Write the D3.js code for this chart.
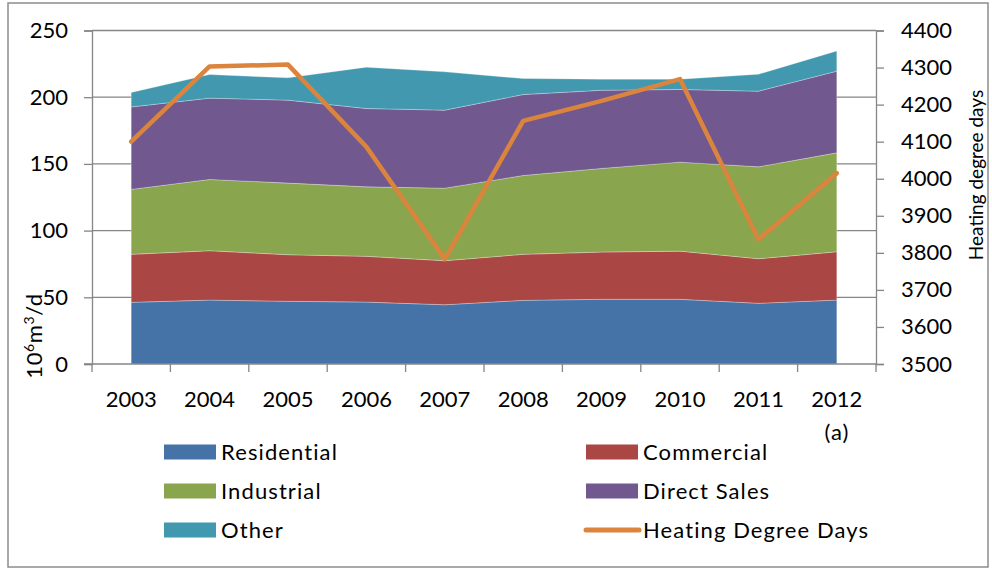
<!DOCTYPE html>
<html>
<head>
<meta charset="utf-8">
<script src="https://cdn.jsdelivr.net/npm/d3@7"></script>
<style>
  body { margin: 0; background: #fff; }
  svg { display: block; font-family: Lato, "Open Sans", sans-serif; }
</style>
</head>
<body>
<div id="container"></div>
<script>
let years = ['2003', '2004', '2005', '2006', '2007', '2008', '2009', '2010', '2011', '2012']
let residential = [46.2, 47.9, 47.0, 46.4, 44.4, 47.7, 48.5, 48.5, 45.5, 47.9]
let commercial = [36.0, 37.0, 34.9, 34.3, 33.0, 34.5, 35.4, 36.1, 33.4, 36.2]
let industrial = [48.7, 53.4, 53.7, 52.1, 54.4, 59.1, 62.7, 66.7, 68.9, 74.2]
let directSales = [61.8, 61.0, 62.2, 58.7, 58.5, 60.7, 58.6, 54.5, 56.7, 61.2]
let other = [10.8, 17.7, 16.7, 31.0, 28.7, 12.0, 8.3, 7.7, 12.7, 15.2]
let hdd = [4100, 4303, 4308, 4086, 3783, 4156, 4210, 4269, 3836, 4015]

let leftTicks = [0, 50, 100, 150, 200, 250]
let rightTicks = [3500, 3600, 3700, 3800, 3900, 4000, 4100, 4200, 4300, 4400]

let seriesNames = ['Residential', 'Commercial', 'Industrial', 'Direct Sales', 'Other']
let seriesColors = ['#4572A7', '#AA4643', '#89A54E', '#71588F', '#4198AF']
let hddColor = '#DB843D'

let svgWidth = 992
let svgHeight = 571
let plotLeft = 92
let plotRight = 876
let plotTop = 30.5
let plotBottom = 364

let rows = years.map((y, i) => ({
    year: y,
    'Residential': residential[i],
    'Commercial': commercial[i],
    'Industrial': industrial[i],
    'Direct Sales': directSales[i],
    'Other': other[i]
}))

let svg = d3.select('#container')
            .append('svg')
            .attr('width', svgWidth)
            .attr('height', svgHeight)

// outer frame
svg.append('rect')
    .attr('x', 8).attr('y', 3)
    .attr('width', 980).attr('height', 564)
    .attr('fill', 'none')
    .attr('stroke', '#8c8c8c')
    .attr('stroke-width', 1.5)

let x = d3.scaleBand().domain(years).range([plotLeft, plotRight]).padding(0)
let xc = d => x(d) + x.bandwidth() / 2
let yLeft = d3.scaleLinear().domain([0, 250]).range([plotBottom, plotTop])
let yRight = d3.scaleLinear().domain([3500, 4400]).range([plotBottom, plotTop])

// gridlines
svg.append('g')
    .selectAll('line')
    .data(leftTicks.slice(1))
    .enter()
    .append('line')
    .attr('x1', plotLeft).attr('x2', plotRight)
    .attr('y1', d => yLeft(d)).attr('y2', d => yLeft(d))
    .attr('stroke', '#868686')
    .attr('stroke-width', 1.3)

// stacked areas
let stack = d3.stack().keys(seriesNames)
let layers = stack(rows)

let area = d3.area()
    .x(d => xc(d.data.year))
    .y0(d => yLeft(d[0]))
    .y1(d => yLeft(d[1]))

svg.append('g')
    .selectAll('path')
    .data(layers)
    .enter()
    .append('path')
    .attr('d', area)
    .attr('fill', (d, i) => seriesColors[i])
    .attr('stroke', 'rgba(255,255,255,0.35)')
    .attr('stroke-width', 0.8)

// left axis
let leftAxis = svg.append('g')
    .attr('transform', 'translate(' + plotLeft + ',0)')
    .call(d3.axisLeft(yLeft).tickValues(leftTicks).tickSize(8).tickPadding(16))
leftAxis.select('.domain').attr('stroke', '#868686').attr('stroke-width', 1.3)
leftAxis.selectAll('.tick line').attr('stroke', '#868686').attr('stroke-width', 1.3)
leftAxis.selectAll('.tick text').attr('font-size', 22).attr('fill', '#000')
    .attr('font-family', 'Lato, sans-serif')

// right axis
let rightAxis = svg.append('g')
    .attr('transform', 'translate(' + plotRight + ',0)')
    .call(d3.axisRight(yRight).tickValues(rightTicks).tickFormat(d3.format('d'))
        .tickSize(8).tickPadding(17))
rightAxis.select('.domain').attr('stroke', '#868686').attr('stroke-width', 1.3)
rightAxis.selectAll('.tick line').attr('stroke', '#868686').attr('stroke-width', 1.3)
rightAxis.selectAll('.tick text').attr('font-size', 22).attr('fill', '#000')
    .attr('font-family', 'Lato, sans-serif')

// bottom axis: labels at band centres, ticks on band edges
let bottom = svg.append('g')
    .attr('transform', 'translate(0,' + plotBottom + ')')
bottom.append('line')
    .attr('x1', plotLeft - 8).attr('x2', plotRight)
    .attr('stroke', '#868686').attr('stroke-width', 1.3)
bottom.selectAll('line.tk')
    .data(years.concat(['end']))
    .enter()
    .append('line')
    .attr('class', 'tk')
    .attr('x1', (d, i) => i < years.length ? x(d) : plotRight)
    .attr('x2', (d, i) => i < years.length ? x(d) : plotRight)
    .attr('y1', 0).attr('y2', 8)
    .attr('stroke', '#868686').attr('stroke-width', 1.3)
bottom.selectAll('text')
    .data(years)
    .enter()
    .append('text')
    .attr('x', d => xc(d))
    .attr('y', 43)
    .attr('text-anchor', 'middle')
    .attr('font-size', 22)
    .text(d => d)

// heating degree days line
let hddLine = d3.line()
    .x((d, i) => xc(years[i]))
    .y(d => yRight(d))
svg.append('path')
    .datum(hdd)
    .attr('d', hddLine)
    .attr('fill', 'none')
    .attr('stroke', hddColor)
    .attr('stroke-width', 4.5)
    .attr('stroke-linejoin', 'round')
    .attr('stroke-linecap', 'round')

// axis titles
let leftTitle = svg.append('text')
    .attr('transform', 'translate(42,336) rotate(-90)')
    .attr('text-anchor', 'middle')
    .attr('font-size', 22)
    .attr('letter-spacing', 0.6)
leftTitle.append('tspan').text('10')
leftTitle.append('tspan').attr('font-size', 14).attr('dy', -8).text('6')
leftTitle.append('tspan').attr('dy', 8).text('m')
leftTitle.append('tspan').attr('font-size', 14).attr('dy', -8).text('3')
leftTitle.append('tspan').attr('dy', 8).text('/d')

svg.append('text')
    .attr('transform', 'translate(983,175) rotate(-90)')
    .attr('text-anchor', 'middle')
    .attr('font-size', 19)
    .text('Heating degree days')

svg.append('text')
    .attr('x', 837).attr('y', 440)
    .attr('text-anchor', 'middle')
    .attr('font-size', 22)
    .attr('letter-spacing', 1)
    .text('(a)')

// legend
let legendItems = [
    { name: 'Residential', color: seriesColors[0], col: 0, row: 0 },
    { name: 'Commercial', color: seriesColors[1], col: 1, row: 0 },
    { name: 'Industrial', color: seriesColors[2], col: 0, row: 1 },
    { name: 'Direct Sales', color: seriesColors[3], col: 1, row: 1 },
    { name: 'Other', color: seriesColors[4], col: 0, row: 2 },
    { name: 'Heating Degree Days', color: hddColor, col: 1, row: 2, line: true }
]
let legendX = [164, 586]
let legendY = [452, 491, 530]

let legend = svg.append('g')
    .selectAll('g')
    .data(legendItems)
    .enter()
    .append('g')
    .attr('transform', d => 'translate(' + legendX[d.col] + ',' + legendY[d.row] + ')')

legend.filter(d => !d.line)
    .append('rect')
    .attr('x', 0).attr('y', -7.5)
    .attr('width', 52).attr('height', 15)
    .attr('fill', d => d.color)
legend.filter(d => d.line)
    .append('line')
    .attr('x1', 0).attr('x2', 53)
    .attr('stroke', d => d.color)
    .attr('stroke-width', 5)
    .attr('stroke-linecap', 'round')
legend.append('text')
    .attr('x', 57)
    .attr('y', 8)
    .attr('font-size', 22)
    .attr('letter-spacing', 1.1)
    .text(d => d.name)
</script>
</body>
</html>
